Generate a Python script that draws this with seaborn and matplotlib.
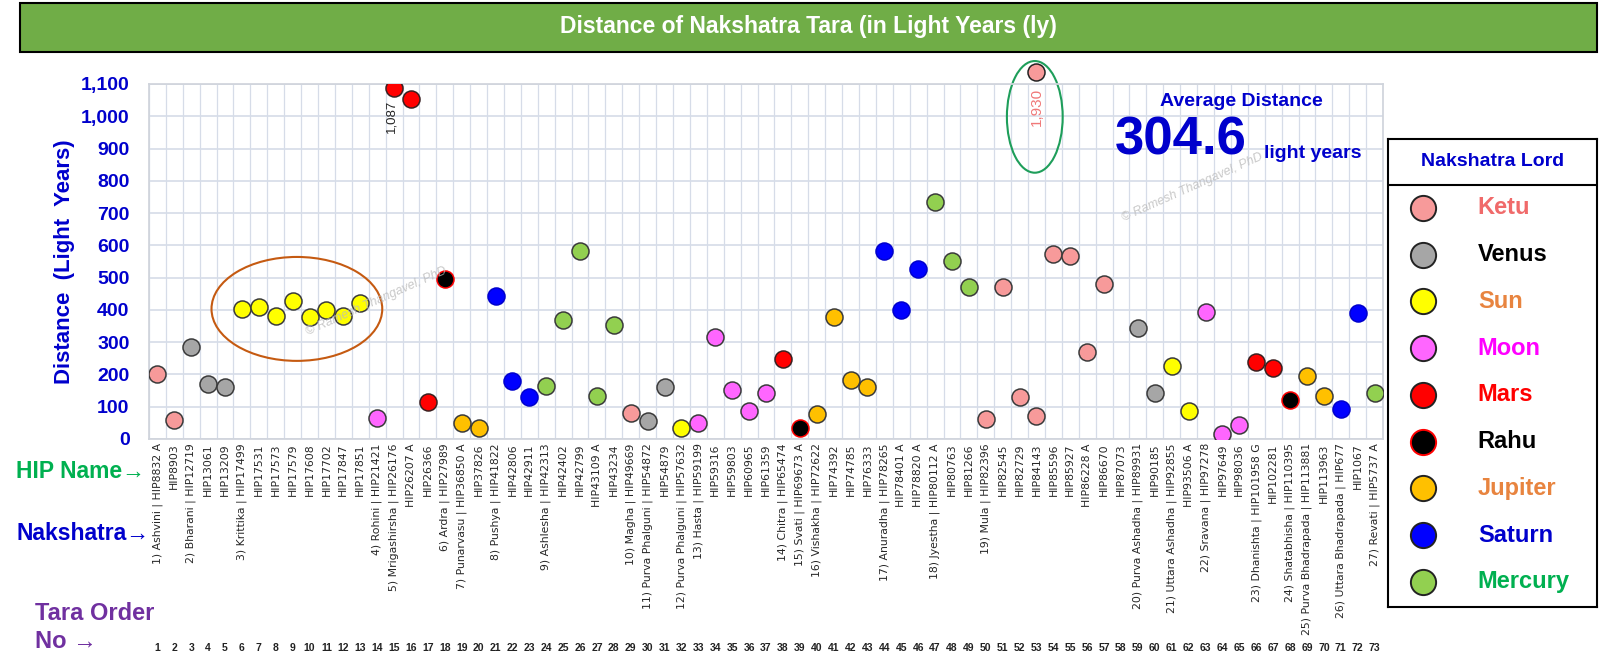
import numpy as np
import pandas as pd
from matplotlib import pyplot as plt
from matplotlib.patches import Ellipse, Rectangle
import matplotlib.ticker as mticker
import seaborn as sns

sns.set_theme(style="white")
plt.rcParams['font.family'] = ['Liberation Sans', 'DejaVu Sans']

# ---- data ----
nakshatras = [
    "Ashvini", "Bharani", "Krittika", "Rohini", "Mrigashirsha", "Ardra", "Punarvasu",
    "Pushya", "Ashlesha", "Magha", "Purva Phalguni", "Purva Phalguni", "Hasta", "Chitra",
    "Svati", "Vishakha", "Anuradha", "Jyestha", "Mula", "Purva Ashadha", "Uttara Ashadha",
    "Sravana", "Dhanishta", "Shatabhisha", "Purva Bhadrapada", "Uttara Bhadrapada", "Revati",
]
stars_per_nakshatra = [2, 3, 8, 1, 3, 1, 2, 3, 5, 1, 2, 1, 5, 1, 1, 4, 3, 3, 9, 2, 2, 3, 2, 1, 2, 2, 1]
lord_cycle = ["Ketu", "Venus", "Sun", "Moon", "Mars", "Rahu", "Jupiter", "Saturn", "Mercury"]

hip_names = [
    "HIP8832 A", "HIP8903", "HIP12719", "HIP13061", "HIP13209", "HIP17499", "HIP17531",
    "HIP17573", "HIP17579", "HIP17608", "HIP17702", "HIP17847", "HIP17851", "HIP21421",
    "HIP26176", "HIP26207 A", "HIP26366", "HIP27989", "HIP36850 A", "HIP37826", "HIP41822",
    "HIP42806", "HIP42911", "HIP42313", "HIP42402", "HIP42799", "HIP43109 A", "HIP43234",
    "HIP49669", "HIP54872", "HIP54879", "HIP57632", "HIP59199", "HIP59316", "HIP59803",
    "HIP60965", "HIP61359", "HIP65474", "HIP69673 A", "HIP72622", "HIP74392", "HIP74785",
    "HIP76333", "HIP78265", "HIP78401 A", "HIP78820 A", "HIP80112 A", "HIP80763", "HIP81266",
    "HIP82396", "HIP82545", "HIP82729", "HIP84143", "HIP85596", "HIP85927", "HIP86228 A",
    "HIP86670", "HIP87073", "HIP89931", "HIP90185", "HIP92855", "HIP93506 A", "HIP97278",
    "HIP97649", "HIP98036", "HIP101958 G", "HIP102281", "HIP110395", "HIP113881", "HIP113963",
    "HIP677", "HIP1067", "HIP5737 A",
]

distance_ly = [
    201, 58, 285, 169, 162, 403, 408, 380, 428, 378, 399, 380, 422, 64,
    1087, 1054, 115, 496, 50, 33, 442, 180, 129, 164, 370, 582, 134, 352,
    79, 57, 162, 33, 48, 316, 152, 87, 144, 247, 35, 76, 377, 182, 162,
    582, 399, 528, 734, 551, 470, 61, 470, 129, 72, 574, 568, 269, 481, 1930,
    345, 141, 226, 87, 393, 15, 43, 237, 219, 121, 195, 133, 93, 389, 144,
]
average_distance = 304.6

# build the per-star table
rows = []
k = 0
for i, (name, n) in enumerate(zip(nakshatras, stars_per_nakshatra)):
    for j in range(n):
        hip = hip_names[k]
        label = f"{i + 1}) {name} | {hip}" if j == 0 else hip
        rows.append({"Tara": k + 1, "Label": label, "Lord": lord_cycle[i % 9],
                     "Distance": distance_ly[k]})
        k += 1
df = pd.DataFrame(rows)

lord_fill = {"Ketu": "#F79A9A", "Venus": "#A6A6A6", "Sun": "#FFFF00", "Moon": "#FF66FF",
             "Mars": "#FF0000", "Rahu": "#000000", "Jupiter": "#FFC000", "Saturn": "#0000FF",
             "Mercury": "#92D050"}
lord_edge = {"Ketu": "#3a3a3a", "Venus": "#3a3a3a", "Sun": "#3a3a3a", "Moon": "#3a3a3a",
             "Mars": "#3a2020", "Rahu": "#FF0000", "Jupiter": "#3a3a3a", "Saturn": "#0000CC",
             "Mercury": "#3a3a3a"}
lord_text = {"Ketu": "#F06A6A", "Venus": "#000000", "Sun": "#E8843F", "Moon": "#FF00FF",
             "Mars": "#FF0000", "Rahu": "#000000", "Jupiter": "#E8843F", "Saturn": "#0000CC",
             "Mercury": "#00B050"}

blue = "#0000CC"
ymax = 1100

fig = plt.figure(figsize=(16, 6.7), dpi=100)
ax_box = [0.0931, 0.3448, 0.7713, 0.5299]
ax = fig.add_axes(ax_box)

# scatter, one call per lord so each keeps its own outline
shown = df[df["Distance"] <= ymax]
for lord in lord_cycle:
    sub = shown[shown["Lord"] == lord]
    sns.scatterplot(data=sub, x="Tara", y="Distance", color=lord_fill[lord],
                    edgecolor=lord_edge[lord], linewidth=1.1, s=150, ax=ax,
                    legend=False, zorder=3)

ax.set_xlim(0.5, 73.5)
ax.set_ylim(0, ymax)
ax.set_xticks(df["Tara"], labels=df["Label"], fontsize=7.8,
              family=['Liberation Sans Narrow', 'DejaVu Sans'])
ax.tick_params(axis='x', labelrotation=90, length=0, pad=3)
ax.set_xticks(np.arange(0.5, 74, 1), minor=True)
ax.set_yticks(np.arange(0, ymax + 1, 100))
ax.yaxis.set_major_formatter(mticker.StrMethodFormatter("{x:,.0f}"))
ax.tick_params(axis='y', length=0, pad=14, labelsize=14, labelcolor=blue)
for t in ax.get_yticklabels():
    t.set_fontweight('bold')
ax.grid(which='minor', axis='x', color='#D6DCE8', lw=0.9)
ax.grid(which='major', axis='y', color='#D6DCE8', lw=1.2)
ax.grid(which='major', axis='x', visible=False)
for sp in ax.spines.values():
    sp.set_color('#D0D4DC')
ax.set_xlabel("")
ax.set_ylabel("Distance  (Light  Years)", color=blue, fontsize=16, fontweight='bold', labelpad=10)
ax.yaxis.set_label_coords(-0.06, 0.5)

# tara order numbers under the names
trans = ax.get_xaxis_transform()
num_y = (0.033 - ax_box[1]) / ax_box[3]
for t in df["Tara"]:
    ax.text(t, num_y, str(t), transform=trans, ha='center', va='center',
            fontsize=7.5, fontweight='bold', color='#222222')

# highlight Krittika cluster and the out-of-range star
ax.add_patch(Ellipse((9.25, 403), 10.1, 322, fill=False, ec='#C55A11', lw=1.5, zorder=2))
ax.annotate(f"{distance_ly[14]:,}", xy=(15, distance_ly[14]), xytext=(-2, -8),
            textcoords='offset points', rotation=90, ha='center', va='top', fontsize=9.5)

far = df.loc[df["Distance"].idxmax()]
outlier_x, outlier_y = 53, 1137
ax.scatter([outlier_x], [outlier_y], s=150, color=lord_fill[far["Lord"]], ec='#222222',
           lw=1.1, clip_on=False, zorder=4)
ax.text(outlier_x, 1030, f"{far['Distance']:,}", rotation=90, ha='center', va='center',
        fontsize=11, color='#F07878')
ax.add_patch(Ellipse((52.9, 998), 3.3, 346, fill=False, ec='#1E9E5A', lw=1.5,
                     clip_on=False, zorder=2))

# watermark
for wx, wy in [(0.235, 0.55), (0.745, 0.72)]:
    fig.text(wx, wy, "\u00a9 Ramesh Thangavel, PhD", rotation=24, fontsize=9, style='italic',
             color='#BBBBBB', alpha=0.8, ha='center', va='center')

# average distance callout
fig.text(0.776, 0.848, "Average Distance", color=blue, fontsize=14, fontweight='bold',
         ha='center', va='center')
fig.text(0.697, 0.79, f"{average_distance}", color=blue, fontsize=38, fontweight='bold',
         ha='left', va='center')
fig.text(0.79, 0.764, "light years", color=blue, fontsize=14, fontweight='bold',
         ha='left', va='baseline')

# row captions on the left
fig.text(0.01, 0.296, "HIP Name\u2192", color='#00B050', fontsize=16.5, fontweight='bold',
         va='center')
fig.text(0.01, 0.203, "Nakshatra\u2192", color='#0000CC', fontsize=16.5, fontweight='bold',
         va='center')
fig.text(0.022, 0.085, "Tara Order", color='#7030A0', fontsize=17, fontweight='bold', va='center')
fig.text(0.022, 0.042, "No \u2192", color='#7030A0', fontsize=17, fontweight='bold', va='center')

# title banner
fig.patches.append(Rectangle((0.0125, 0.9224), 0.9856, 0.0731, transform=fig.transFigure,
                             facecolor='#70AD47', edgecolor='black', lw=1.5))
fig.text(0.505, 0.96, "Distance of Nakshatra Tara (in Light Years (ly)", color='white',
         fontsize=16.5, fontweight='bold', ha='center', va='center')

# legend box
lax = fig.add_axes([0.8675, 0.094, 0.1306, 0.6985])
lax.set_xlim(0, 1)
lax.set_ylim(0, 1)
lax.set_xticks([])
lax.set_yticks([])
for sp in lax.spines.values():
    sp.set_color('black')
    sp.set_linewidth(1.5)
lax.text(0.5, 0.951, "Nakshatra Lord", color=blue, fontsize=14, fontweight='bold',
         ha='center', va='center')
lax.axhline(0.902, color='black', lw=1.5)
for i, lord in enumerate(lord_cycle):
    y = 0.853 - i * 0.0999
    lax.scatter([0.167], [y], s=330, color=lord_fill[lord], ec=lord_edge[lord] if lord == "Rahu" else '#222222',
                lw=1.4)
    lax.text(0.43, y, lord, color=lord_text[lord], fontsize=17, fontweight='bold',
             ha='left', va='center')

fig.savefig("out.png", dpi=100)
plt.close("all")
